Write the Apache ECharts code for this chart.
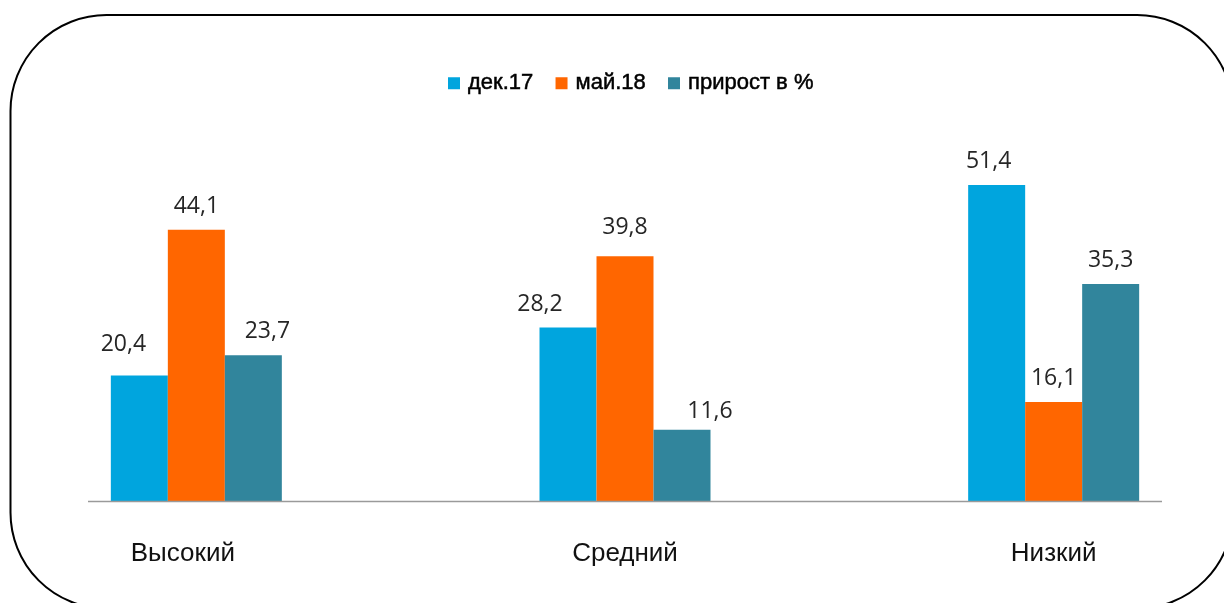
<!DOCTYPE html>
<html>
<head>
<meta charset="utf-8">
<script src="https://cdn.jsdelivr.net/npm/echarts@6/dist/echarts.min.js"></script>
<style>
  html, body { margin: 0; padding: 0; background: #fff; }
  #chart { width: 1224px; height: 603px; }
</style>
</head>
<body>
<div id="chart"></div>
<script>
// Levels and the three measured series
const categories = ['Высокий', 'Средний', 'Низкий'];
const seriesNames = ['дек.17', 'май.18', 'прирост в %'];
const dec17 = [20.4, 28.2, 51.4];
const may18 = [44.1, 39.8, 16.1];
const growth = [23.7, 11.6, 35.3];

const colors = ['#00A5DE', '#FF6600', '#31859C'];

// Small nudges for value labels that sit off-centre above their bars
const labelNudge = [
  [[-16, -8], [-28, 0], [-8, 0]],
  [[0, 0], [0, -5], [0, 0]],
  [[14, 0], [28, 5], [0, 0]]
];

function toItems(values, s) {
  return values.map((v, i) => ({
    value: v,
    label: { offset: labelNudge[s][i] }
  }));
}

const chart = echarts.init(document.getElementById('chart'), null, { renderer: 'canvas' });

const valueLabel = {
  show: true,
  position: 'top',
  distance: 12,
  fontFamily: '"Open Sans", sans-serif',
  fontSize: 23,
  color: '#262626',
  formatter: p => String(p.value).replace('.', ',')
};

chart.setOption({
  animation: false,
  backgroundColor: '#fff',
  color: colors,
  legend: {
    top: 67,
    left: 443,
    icon: 'rect',
    itemWidth: 12,
    itemHeight: 12,
    itemGap: 22,
    textStyle: {
      fontFamily: '"Liberation Sans", Arial, sans-serif',
      fontSize: 22,
      color: '#000',
      textBorderColor: '#000',
      textBorderWidth: 0.5,
      padding: [0, 0, 0, 3]
    },
    data: seriesNames
  },
  grid: { left: -18, width: 1286, top: 132, bottom: 102, containLabel: false, outerBoundsMode: 'none' },
  xAxis: {
    type: 'category',
    data: categories.map((c, i) => i === 0
      ? { value: c, textStyle: { padding: [0, 27, 0, 0] } }
      : c),
    axisLine: { show: false },
    axisTick: { show: false },
    axisLabel: {
      margin: 40,
      fontFamily: '"Liberation Sans", Arial, sans-serif',
      fontSize: 26,
      color: '#111'
    }
  },
  yAxis: {
    type: 'value',
    min: 0,
    max: 60,
    show: false,
    splitLine: { show: false }
  },
  series: [
    { name: seriesNames[0], type: 'bar', barWidth: 57, barGap: '0%', data: toItems(dec17, 0), label: valueLabel },
    { name: seriesNames[1], type: 'bar', barWidth: 57, barGap: '0%', data: toItems(may18, 1), label: valueLabel },
    { name: seriesNames[2], type: 'bar', barWidth: 57, barGap: '0%', data: toItems(growth, 2), label: valueLabel }
  ],
  graphic: [
    {
      type: 'line',
      shape: { x1: 88, y1: 501.5, x2: 1162, y2: 501.5 },
      style: { stroke: '#9a9a9a', lineWidth: 1.5 },
      z: 10
    },
    {
      type: 'rect',
      shape: { x: 10.5, y: 15, width: 1222.5, height: 593.5, r: 96 },
      style: { fill: 'none', stroke: '#000', lineWidth: 2 },
      silent: true
    }
  ]
});
</script>
</body>
</html>
